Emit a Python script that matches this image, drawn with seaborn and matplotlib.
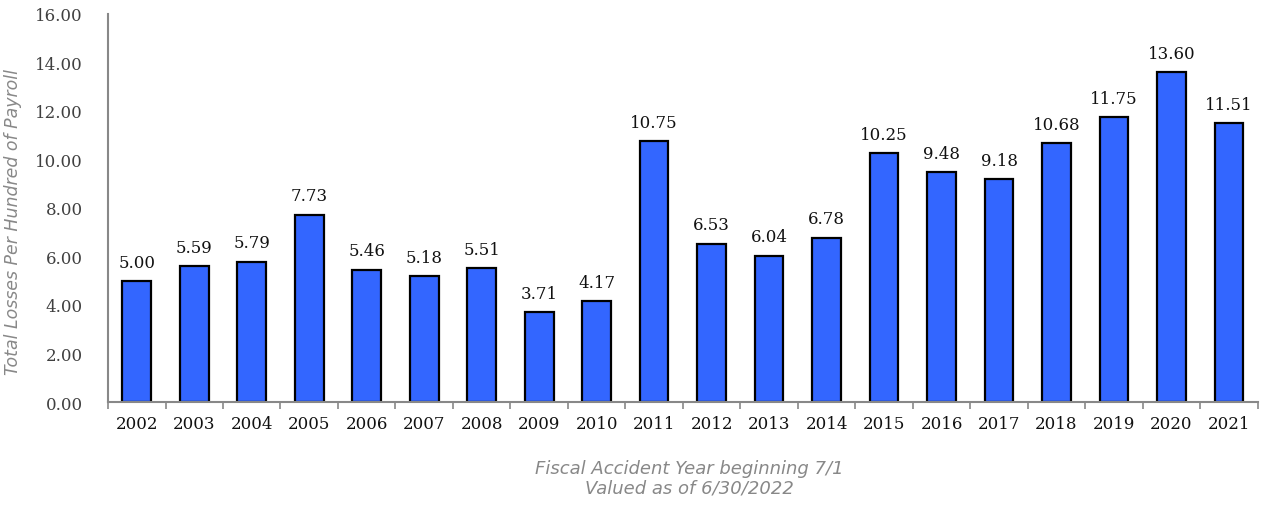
import matplotlib
matplotlib.use("Agg")
import matplotlib.pyplot as plt
import seaborn as sns
import pandas as pd

years = [str(y) for y in range(2002, 2022)]
losses = [5.00, 5.59, 5.79, 7.73, 5.46, 5.18, 5.51, 3.71, 4.17, 10.75,
          6.53, 6.04, 6.78, 10.25, 9.48, 9.18, 10.68, 11.75, 13.60, 11.51]
yticks = [0, 2, 4, 6, 8, 10, 12, 14, 16]

df = pd.DataFrame({"year": years, "loss": losses})

sns.set_theme(style="white")
fig = plt.figure(figsize=(12.62, 5.10), dpi=100)
ax = fig.add_axes([0.0856, 0.2098, 0.911, 0.7608])

sns.barplot(data=df, x="year", y="loss", color="#3366FF", width=0.5,
            edgecolor="black", linewidth=1.6, saturation=1, ax=ax)

serif = "DejaVu Serif"
for i, v in enumerate(losses):
    ax.text(i, v + 0.42, f"{v:.2f}", ha="center", va="bottom",
            family=serif, fontsize=12, color="#111111")

ax.set_xlim(-0.5, len(years) - 0.5)
ax.set_ylim(0, 16)
ax.set_yticks(yticks)
ax.set_yticklabels([f"{t:.2f}" for t in yticks], family=serif, fontsize=12, color="#404040")
ax.set_xticks(range(len(years)))
ax.set_xticklabels(years, family=serif, fontsize=12, color="#111111")

# ticks sit on the category boundaries
ax.set_xticks([i + 0.5 for i in range(-1, len(years))], minor=True)
ax.tick_params(axis="x", which="major", length=0, pad=9)
ax.tick_params(axis="x", which="minor", length=5, width=1.2, color="#888888", bottom=True)
ax.tick_params(axis="y", length=0, pad=18)

for side in ["top", "right"]:
    ax.spines[side].set_visible(False)
for side in ["left", "bottom"]:
    ax.spines[side].set_color("#888888")
    ax.spines[side].set_linewidth(1.5)

ax.set_ylabel("Total Losses Per Hundred of Payroll", fontsize=12.5, style="italic",
              color="#888888")
ax.yaxis.set_label_coords(-0.075, 0.466, transform=ax.transAxes)
ax.set_xlabel("Fiscal Accident Year beginning 7/1\nValued as of 6/30/2022", fontsize=13,
              style="italic", color="#888888", linespacing=1.05)
ax.xaxis.set_label_coords(0.506, -0.148, transform=ax.transAxes)
ax.xaxis.label.set_va("top")

fig.savefig("out.png", dpi=100)
